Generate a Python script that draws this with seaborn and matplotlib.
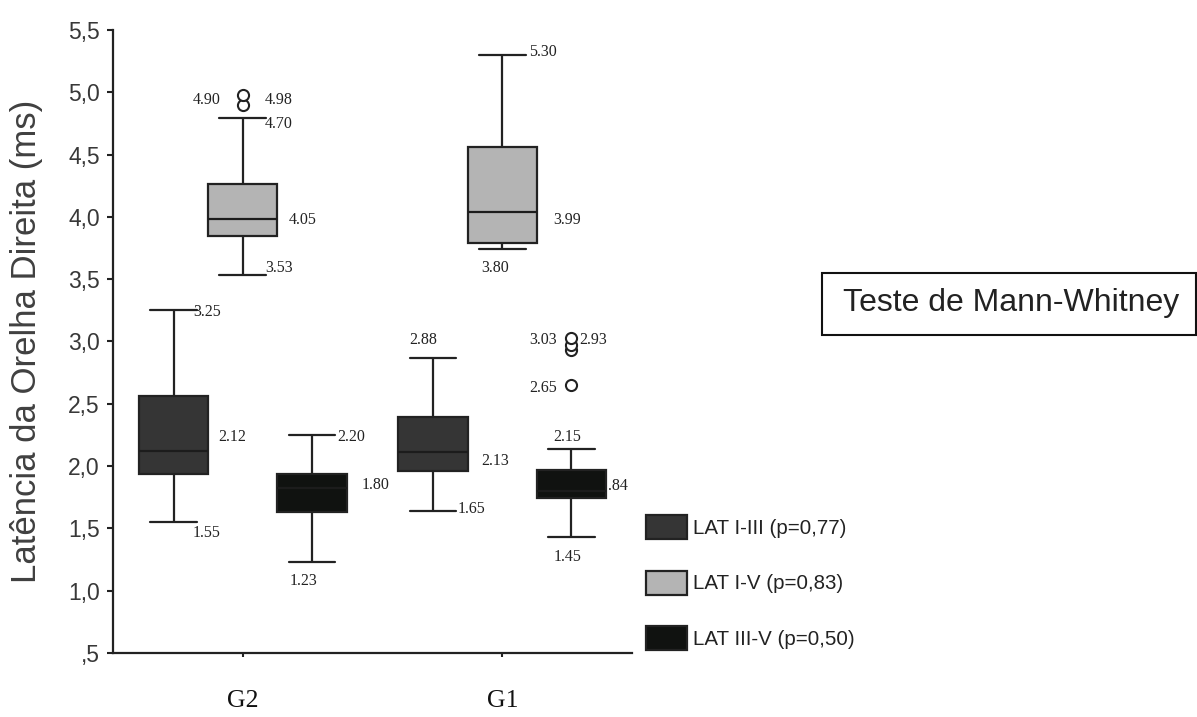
import matplotlib
matplotlib.use("Agg")
import matplotlib.pyplot as plt
from matplotlib.patches import Rectangle
import pandas as pd
import seaborn as sns

groups = ["G2", "G1"]
series = ["LAT I-III", "LAT I-V", "LAT III-V"]
legend_labels = ["LAT I-III (p=0,77)", "LAT I-V (p=0,83)", "LAT III-V (p=0,50)"]
colors = ["#353535", "#b4b4b4", "#101210"]

# observations per box (chosen so quartiles, whiskers and outliers match the picture)
g2_lat_1_3 = [1.55, 1.94, 2.12, 2.56, 3.25]
g2_lat_1_5 = [3.53, 3.70, 3.80, 3.85, 3.90, 3.95, 3.98, 4.10, 4.20, 4.26, 4.79, 4.90, 4.98]
g2_lat_3_5 = [1.23, 1.63, 1.82, 1.94, 2.25]
g1_lat_1_3 = [1.64, 1.96, 2.11, 2.39, 2.87]
g1_lat_1_5 = [3.74, 3.79, 4.04, 4.56, 5.30]
g1_lat_3_5 = [1.43, 1.55, 1.62, 1.68, 1.72, 1.74, 1.75, 1.77, 1.78, 1.79, 1.80,
              1.84, 1.88, 1.92, 1.95, 1.97, 2.14, 2.65, 2.93, 2.97, 3.03]

yticks = [0.5, 1.0, 1.5, 2.0, 2.5, 3.0, 3.5, 4.0, 4.5, 5.0, 5.5]
ytick_labels = [",5", "1,0", "1,5", "2,0", "2,5", "3,0", "3,5", "4,0", "4,5", "5,0", "5,5"]

# numbers written beside the boxes
value_labels = ["3.25", "2.12", "1.55", "4.90", "4.98", "4.70", "4.05", "3.53",
                "2.20", "1.80", "1.23", "2.88", "2.13", "1.65", "5.30", "3.99",
                "3.80", "3.03", "2.93", "2.65", "2.15", ".84", "1.45"]
# where they sit (x in category units, y in ms, alignment)
label_pos = [(-0.192, 3.237, "left"), (-0.095, 2.233, "left"), (-0.192, 1.463, "left"),
             (-0.084, 4.938, "right"), (0.086, 4.938, "left"), (0.086, 4.746, "left"),
             (0.178, 3.975, "left"), (0.086, 3.590, "left"),
             (0.363, 2.233, "left"), (0.460, 1.848, "left"), (0.182, 1.078, "left"),
             (0.641, 3.012, "left"), (0.918, 2.041, "left"), (0.829, 1.656, "left"),
             (1.103, 5.323, "left"), (1.196, 3.975, "left"), (0.918, 3.590, "left"),
             (1.103, 3.012, "left"), (1.296, 3.012, "left"), (1.103, 2.627, "left"),
             (1.196, 2.233, "left"), (1.408, 1.840, "left"), (1.199, 1.270, "left")]

boxes = {
    ("G2", "LAT I-III"): g2_lat_1_3,
    ("G2", "LAT I-V"): g2_lat_1_5,
    ("G2", "LAT III-V"): g2_lat_3_5,
    ("G1", "LAT I-III"): g1_lat_1_3,
    ("G1", "LAT I-V"): g1_lat_1_5,
    ("G1", "LAT III-V"): g1_lat_3_5,
}
rows = [(g, s, v) for (g, s), vals in boxes.items() for v in vals]
df = pd.DataFrame(rows, columns=["grupo", "serie", "valor"])

sns.set_style("ticks")
plt.rcParams["font.family"] = ["Liberation Sans", "DejaVu Sans"]

ink = "#222222"
fig = plt.figure(figsize=(11.97, 7.17), dpi=100)
ax = fig.add_axes([0.0944, 0.0893, 0.4336, 0.8689])

sns.boxplot(data=df, x="grupo", y="valor", hue="serie", order=groups,
            hue_order=series, palette=colors, saturation=1, width=0.8, gap=0,
            linewidth=1.6, linecolor=ink, whis=1.5, capwidths=0.18,
            flierprops=dict(marker="o", markersize=8, markerfacecolor="white",
                            markeredgecolor=ink, markeredgewidth=1.5),
            medianprops=dict(color="#1c1c1c", linewidth=1.6), ax=ax)

ax.set_xlim(-0.5, 1.5)
ax.set_ylim(0.5, 5.5)
ax.set_yticks(yticks)
ax.set_yticklabels(ytick_labels, fontsize=16.5, color="#383838")
ax.set_xlabel("")
ax.set_ylabel("Latência da Orelha Direita (ms)", fontsize=25, color="#404040")
ax.yaxis.set_label_coords(-0.135, 0.5)
for lab in ax.get_xticklabels():
    lab.set_fontfamily("Liberation Serif")
    lab.set_fontsize(18.5)
    lab.set_color("#111111")
ax.tick_params(axis="y", length=4.5, width=1.5, color=ink, pad=5)
ax.tick_params(axis="x", length=3, width=1.5, color=ink, pad=24)
sns.despine(ax=ax)
for side in ["left", "bottom"]:
    ax.spines[side].set_linewidth(1.6)
    ax.spines[side].set_color(ink)

for txt, (x, y, ha) in zip(value_labels, label_pos):
    ax.text(x, y, txt, ha=ha, va="center", fontsize=11.5,
            family="Liberation Serif", color="#222222")

handles, _ = ax.get_legend_handles_labels()
ax.legend(handles=handles, labels=legend_labels, loc="upper left",
          bbox_to_anchor=(0.5397, 0.2815), bbox_transform=fig.transFigure,
          frameon=False, fontsize=14.8, handlelength=2.0, handleheight=1.4,
          handletextpad=0.3, labelspacing=1.55, borderpad=0, borderaxespad=0,
          labelcolor="#222222")

fig.patches.append(Rectangle((0.6867, 0.5328), 0.3125, 0.0864, transform=fig.transFigure,
                             facecolor="white", edgecolor="#111111", linewidth=1.5))
fig.text(0.7043, 0.5775, "Teste de Mann-Whitney", fontsize=23, color="#222222",
         ha="left", va="center")

fig.savefig("out.png", dpi=100)
